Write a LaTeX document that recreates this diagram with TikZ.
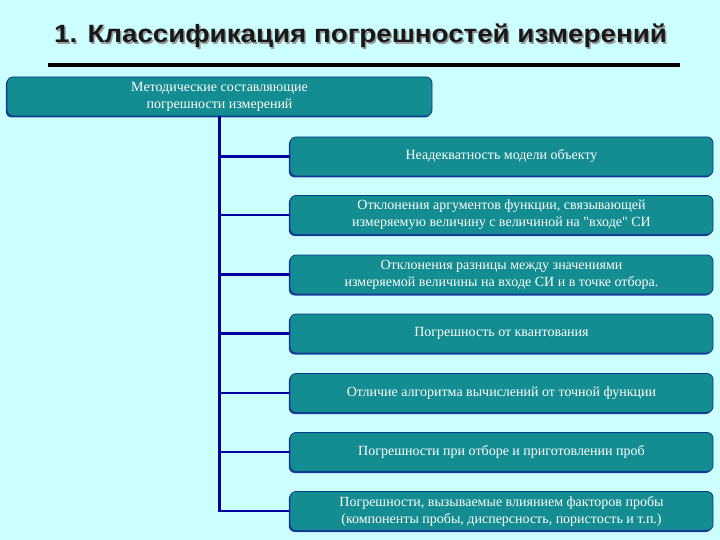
\documentclass[tikz,border=0pt]{standalone}
\usepackage{fontspec}
\setmainfont{Liberation Serif}
\newfontfamily\titlefont{Liberation Sans}
\usetikzlibrary{shadows}
\definecolor{bgcol}{HTML}{CCFFFF}
\definecolor{boxfill}{HTML}{138C92}
\definecolor{boxedge}{HTML}{0B3C8C}
\definecolor{linecol}{HTML}{0000A0}
\definecolor{shadowcol}{HTML}{1A3A9A}
\tikzset{
  catbox/.style={draw=boxedge, line width=0.8pt, fill=boxfill, rounded corners=6pt,
    text=white, align=center, font=\fontsize{14}{17}\selectfont, inner sep=2pt,
    drop shadow={shadow xshift=-1.2pt, shadow yshift=-1.5pt, fill=shadowcol, opacity=1}},
  topbox/.style={catbox, minimum width=425pt, minimum height=39pt},
  subbox/.style={catbox, minimum width=423pt, minimum height=39pt},
  branch/.style={draw=linecol, line width=2.4pt},
  titletext/.style={font=\titlefont\bfseries\fontsize{25}{30}\selectfont, transform shape, xscale=1.11},
}
\begin{document}
\begin{tikzpicture}[x=1pt,y=-1pt]
\fill[bgcol] (0,0) rectangle (720,540);
\useasboundingbox (0,0) rectangle (720,540);
% title
\node[titletext, text=black!40] (titleshadow) at (362,37.5) {1. Классификация погрешностей измерений};
\node[titletext, text=black!90] (title) at (360.5,35.5) {1. Классификация погрешностей измерений};
\fill[black] (48,63) rectangle (680,67);
% boxes
\node[topbox] (top) at (219.5,96.5) {Методические составляющие\\погрешности измерений};
\node[subbox] (b1) at (501.5,156.5) {Неадекватность модели объекту};
\node[subbox] (b2) at (501.5,215) {Отклонения аргументов функции, связывающей\\измеряемую величину с величиной на \textquotedbl входе\textquotedbl{} СИ};
\node[subbox] (b3) at (501.5,274.5) {Отклонения разницы между значениями\\измеряемой величины на входе СИ и в точке отбора.};
\node[subbox] (b4) at (501.5,333.5) {Погрешность от квантования};
\node[subbox] (b5) at (501.5,393) {Отличие алгоритма вычислений от точной функции};
\node[subbox] (b6) at (501.5,452) {Погрешности при отборе и приготовлении проб};
\node[subbox] (b7) at (501.5,511) {Погрешности, вызываемые влиянием факторов пробы\\(компоненты пробы, дисперсность, пористость и т.п.)};
% connectors
\draw[branch] (top.south) |- (b7.west);
\foreach \b in {b1,b2,b3,b4,b5,b6}{
  \draw[branch] (top.south |- \b.west) -- (\b.west);
}
\end{tikzpicture}
\end{document}
